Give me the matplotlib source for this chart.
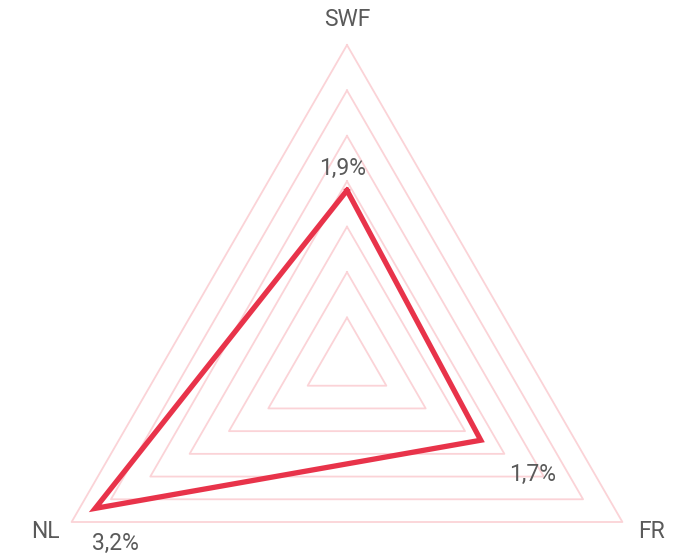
import numpy as np
import matplotlib.pyplot as plt

categories = ["SWF", "FR", "NL"]
values = [1.9, 1.7, 3.2]
value_labels = ["1,9%", "1,7%", "3,2%"]
ring_levels = [0.5, 1.0, 1.5, 2.0, 2.5, 3.0, 3.5]
r_max = 3.5

line_color = "#e8334a"
grid_color = "#fbd3d7"
text_color = "#5a5a5a"

plt.rcParams['font.family'] = ['Roboto', 'DejaVu Sans']

fig = plt.figure(figsize=(6.92, 5.54), dpi=100)
# polar axes centred on the triangle, bottom part hangs below the figure
ax = fig.add_axes([29 / 692, -127 / 554, 636 / 692, 636 / 554], projection='polar')
ax.set_theta_offset(np.pi / 2)
ax.set_theta_direction(-1)
ax.set_ylim(0, r_max)
ax.set_axis_off()

theta = np.linspace(0, 2 * np.pi, len(categories), endpoint=False)
theta_closed = np.append(theta, theta[0])

# triangular grid rings
for lvl in ring_levels:
    ax.plot(theta_closed, [lvl] * len(theta_closed), color=grid_color,
            lw=1.3, clip_on=False, zorder=1)

# data polygon
vals_closed = values + values[:1]
ax.plot(theta_closed, vals_closed, color=line_color, lw=3.8,
        solid_joinstyle='miter', clip_on=False, zorder=3)

# category names outside the outer ring
name_offsets = [(0, 0), (3.5, 5), (-1.5, 5)]
for t, name, off in zip(theta, categories, name_offsets):
    ax.annotate(name, xy=(t, 3.81), xytext=off, textcoords='offset points',
                ha='center', va='center_baseline', fontsize=16.5,
                color=text_color, annotation_clip=False)

# value labels next to each vertex
offsets = [(-2.9, 17.3), (37.4, -23), (14.4, -23.8)]
for t, v, lab, off in zip(theta, values, value_labels, offsets):
    ax.annotate(lab, xy=(t, v), xytext=off, textcoords='offset points',
                ha='center', va='center_baseline', fontsize=16.5,
                color=text_color, annotation_clip=False)

fig.savefig("out.png", dpi=100)
